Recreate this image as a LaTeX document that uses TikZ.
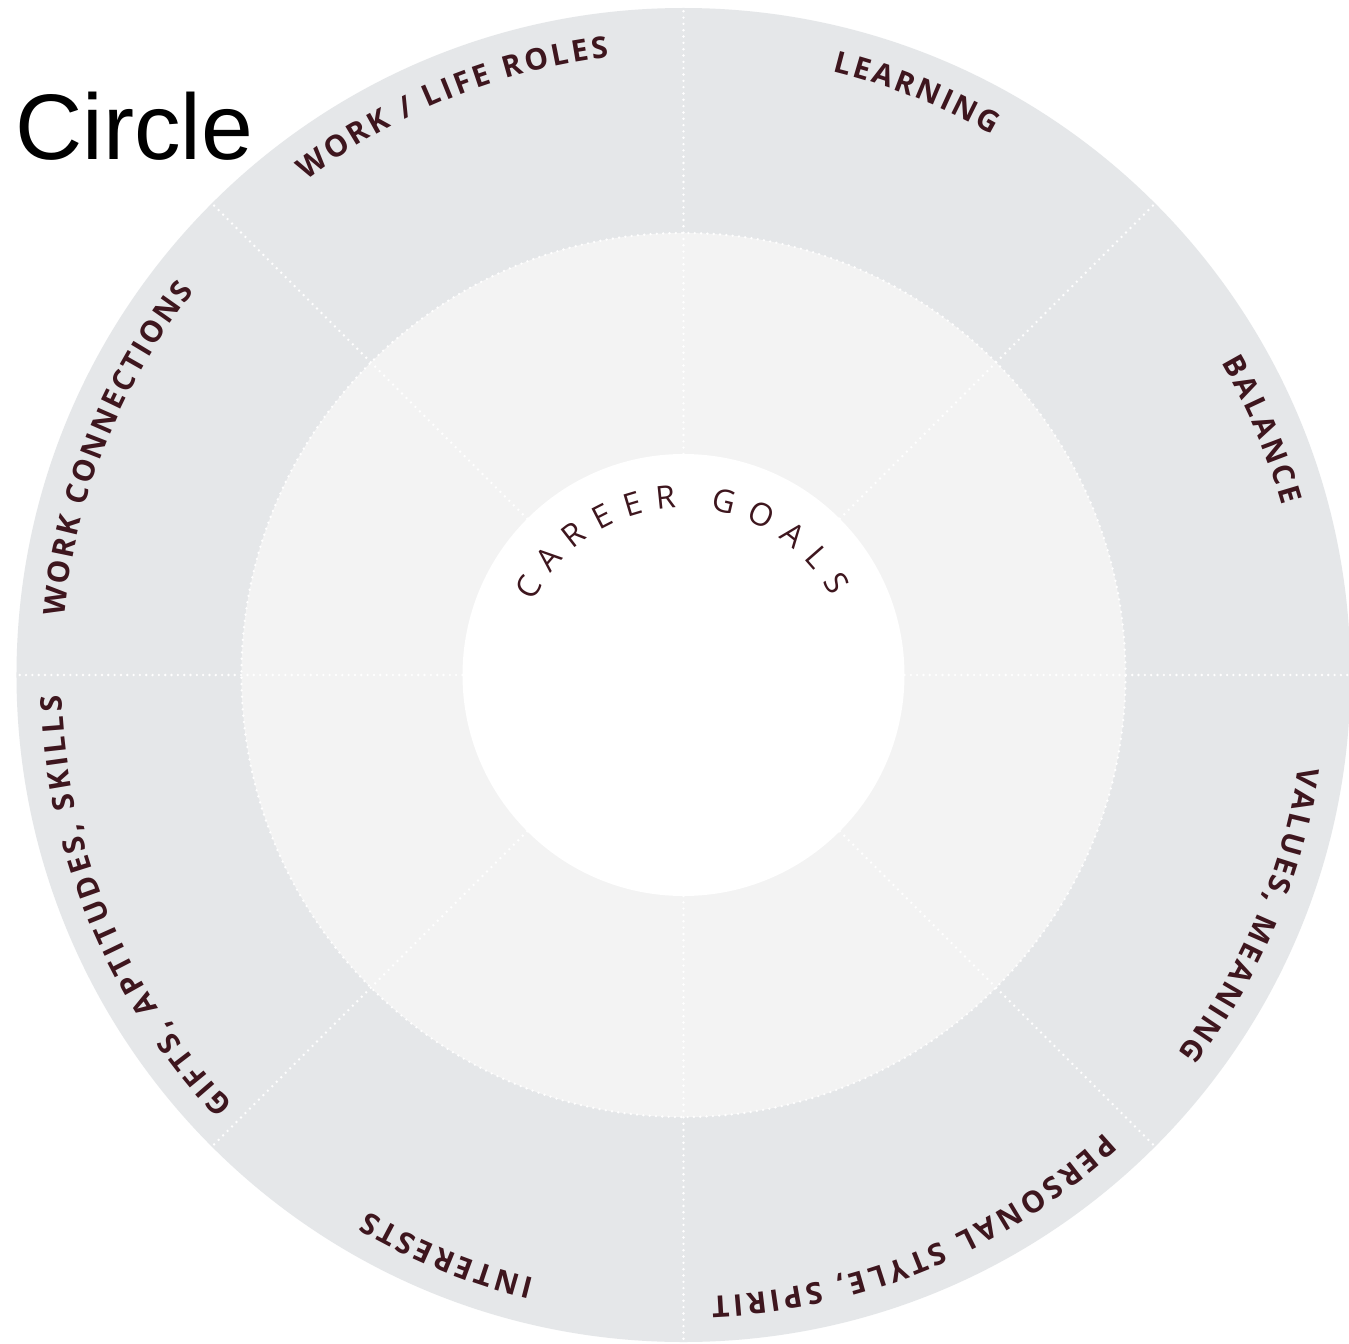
\documentclass[tikz,border=0pt]{standalone}
\usepackage{fontspec}
\usepackage{xcolor}
\setmainfont{Open Sans}
\newfontfamily\titlefont{Liberation Sans}
\newfontfamily\ringfont{Open Sans}
\usetikzlibrary{decorations.text}
\definecolor{CircOuter}{RGB}{229, 231, 233}
\definecolor{CircMiddle}{RGB}{243, 243, 243}
\definecolor{CircText}{RGB}{62, 22, 30}

\newcommand\ringlabelfont{\ringfont\bfseries\fontsize{17}{20}\selectfont\color{CircText}}
\newcommand\goalfont{\ringfont\fontsize{18}{21}\selectfont\color{CircText}}

\tikzset{
  divider/.style={white, line width=1.5pt, dash pattern=on 0pt off 3.6pt, line cap=round},
  ringlabel/.style={decorate, decoration={text along path, text align={fit to path},
      text={|\ringlabelfont|#1}}},
  goallabel/.style={decorate, decoration={text along path, text align={fit to path},
      text={|\goalfont|#1}}}
}

\begin{document}
\begin{tikzpicture}[x=0.02cm, y=0.02cm]
    \useasboundingbox (-683.5,-668) rectangle (665.5,675);
    \fill[white] (-683.5,-668) rectangle (665.5,675);
    \coordinate (c) at (0,0);

    % rings
    \fill[CircOuter] (c) circle[radius=667];
    \fill[CircMiddle] (c) circle[radius=442];
    \draw[divider] (c) circle[radius=442];
    \foreach \a in {0,45,...,315}
      \draw[divider] (\a:221) -- (\a:667);
    \fill[white] (c) circle[radius=221];

    % outer labels, clockwise
    \path[ringlabel={LEARNING}] (76.1:622) arc[start angle=76.1, end angle=60.2, radius=622];
    \path[ringlabel={BALANCE}] (30.2:622) arc[start angle=30.2, end angle=15.8, radius=622];
    \path[ringlabel={VALUES, MEANING}] (-8.5:622) arc[start angle=-8.5, end angle=-37.4, radius=622];
    \path[ringlabel={PERSONAL STYLE, SPIRIT}] (-47.4:622) arc[start angle=-47.4, end angle=-87.4, radius=622];
    \path[ringlabel={INTERESTS}] (-103.9:622) arc[start angle=-103.9, end angle=-120.5, radius=622];
    \path[ringlabel={GIFTS, APTITUDES, SKILLS}] (223.7:622) arc[start angle=223.7, end angle=181.9, radius=622];
    \path[ringlabel={WORK CONNECTIONS}] (174.6:622) arc[start angle=174.6, end angle=141.9, radius=622];
    \path[ringlabel={WORK / LIFE ROLES}] (127.3:622) arc[start angle=127.3, end angle=96.9, radius=622];

    % centre
    \path[goallabel={CAREER GOALS}] (154:167) arc[start angle=154, end angle=28, radius=167];

    \node[anchor=base west, inner sep=0pt, font=\titlefont\fontsize{53}{60}\selectfont]
      (title) at (-668.5,515) {Circle};
\end{tikzpicture}
\end{document}
